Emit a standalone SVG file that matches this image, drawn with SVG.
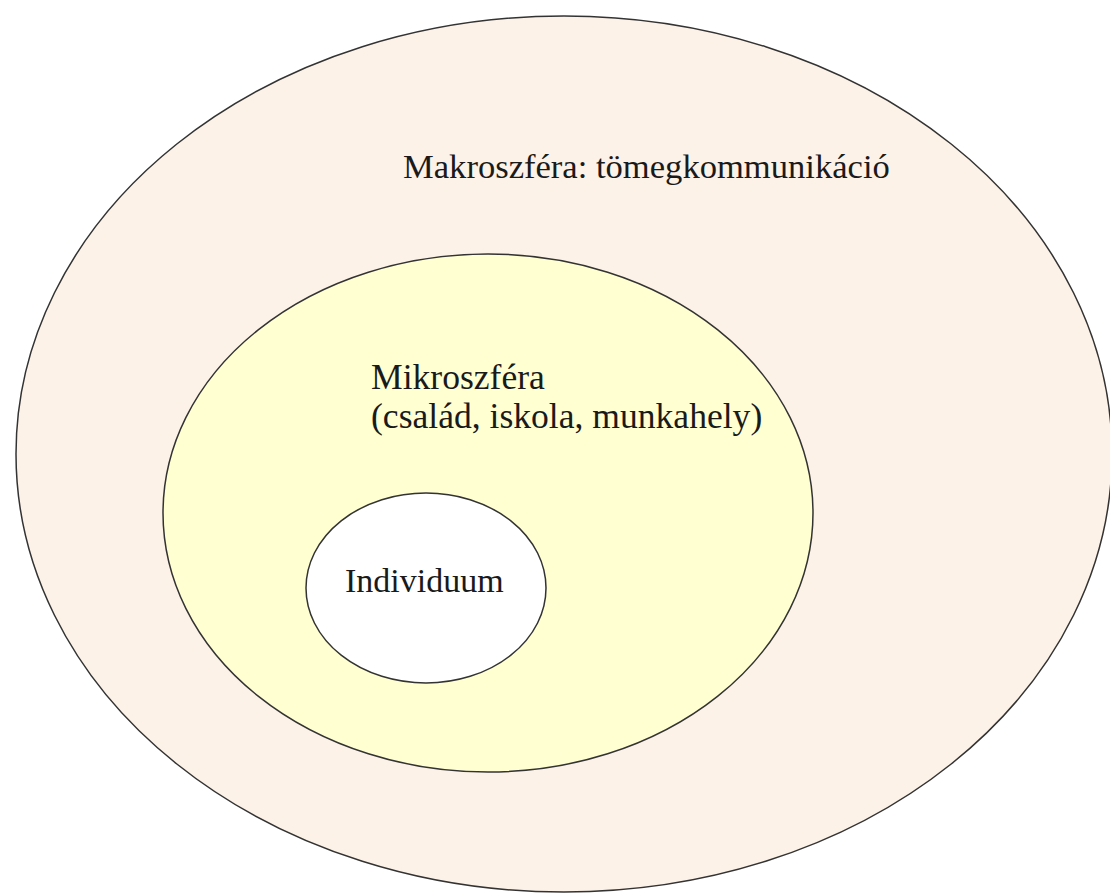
<svg xmlns="http://www.w3.org/2000/svg" width="1110" height="895" viewBox="0 0 1110 895">
<style>
.ring{stroke:#333;stroke-width:1.5}
.lbl{font-family:"Liberation Serif","Times New Roman",serif;fill:#1a1a1a}
</style>
<rect width="1110" height="895" fill="#ffffff"/>
<g id="makroszfera">
<ellipse class="ring" cx="564" cy="454" rx="548" ry="438" fill="#fdf2e8"/>
<text class="lbl" x="403" y="178" font-size="34.6">Makroszféra: tömegkommunikáció</text>
</g>
<g id="mikroszfera">
<ellipse class="ring" cx="488" cy="513" rx="325" ry="259" fill="#ffffd2"/>
<text class="lbl" x="371" y="389" font-size="35.6">Mikroszféra</text>
<text class="lbl" x="371" y="428" font-size="35.6">(család, iskola, munkahely)</text>
</g>
<g id="individuum">
<ellipse class="ring" cx="426" cy="588" rx="120" ry="95" fill="#ffffff"/>
<text class="lbl" x="345" y="592" font-size="34">Individuum</text>
</g>
<g id="connectors"></g>
</svg>
